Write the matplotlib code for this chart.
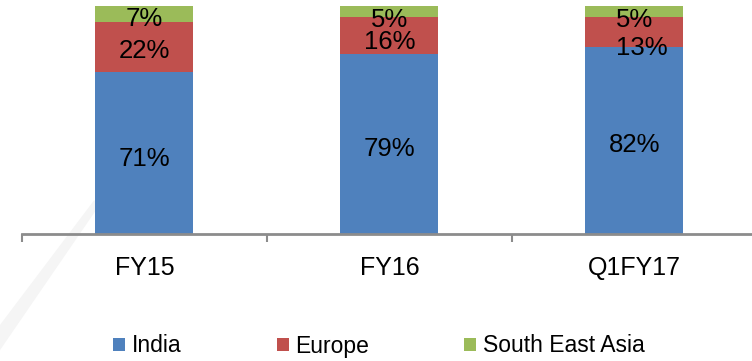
import numpy as np
import matplotlib.pyplot as plt
from matplotlib.patches import Polygon

categories = ['FY15', 'FY16', 'Q1FY17']
series_names = ['India', 'Europe', 'South East Asia']
india = [71, 79, 82]
europe = [22, 16, 13]
sea = [7, 5, 5]

colors = ['#4F81BD', '#C0504D', '#9BBB59']

plt.rcParams['font.family'] = ['Liberation Sans', 'DejaVu Sans']

fig = plt.figure(figsize=(7.52, 3.61), dpi=100)

# faint watermark swoosh behind everything
fig.patches.append(Polygon([[0.0, 0.10], [0.0, 0.03], [0.135, 0.44], [0.125, 0.445]],
                           closed=True, transform=fig.transFigure,
                           facecolor='#f5f5f5', edgecolor='none', zorder=-5))

ax = fig.add_axes([22 / 752, 1 - 234 / 361, 735 / 752, 228 / 361])
ax.set_zorder(2)
ax.patch.set_alpha(0)

x = np.arange(len(categories))
width = 0.4
bottom = np.zeros(len(categories))
bars = []
for vals, name, c in zip([india, europe, sea], series_names, colors):
    ax.bar(x, vals, width, bottom=bottom, color=c, label=name, zorder=2)
    bars.append((np.array(vals), bottom.copy()))
    bottom += np.array(vals)

# data labels: cap-centre a bit below the segment centre, small ones pushed down (px)
lab_fs = 18.5
cap_half = 0.716 * lab_fs * 100 / 72 / 2
shift = {(0, 0): (0, 4), (0, 1): (0, 2), (0, 2): (0, 2.5),
         (1, 0): (0, 3), (1, 1): (0, 4.5), (1, 2): (0, 6.3),
         (2, 0): (0, 2.5), (2, 1): (7, 13.8), (2, 2): (0, 6.3)}
for si, (vals, bot) in enumerate(bars):
    for i in range(len(categories)):
        dx, dy = shift[(i, si)]
        ax.annotate(f'{vals[i]}%', (x[i], bot[i] + vals[i] / 2),
                    xytext=(dx * 0.72, -(cap_half + dy) * 0.72),
                    textcoords='offset points', ha='center', va='baseline',
                    fontsize=lab_fs, color='black', zorder=3)

ax.set_xlim(-0.5, len(categories) - 0.5)
ax.set_ylim(0, 100)
for s in ['top', 'right', 'left']:
    ax.spines[s].set_visible(False)
ax.spines['bottom'].set_color('#8c8c8c')
ax.spines['bottom'].set_linewidth(2)
ax.set_yticks([])
ax.set_xticks(np.arange(len(categories) + 1) - 0.5)
ax.set_xticklabels([])
ax.tick_params(axis='x', which='major', direction='out', length=6, width=1.5, color='#8c8c8c')
ax.set_xticks(x, minor=True)
ax.set_xticklabels(categories, minor=True, fontsize=18)
ax.tick_params(axis='x', which='minor', length=0, pad=16)

fig.legend(loc='center', bbox_to_anchor=(379 / 752, 1 - 346 / 361), ncol=3, frameon=False,
           fontsize=16.5, handlelength=0.52, handleheight=0.52, handletextpad=0.3,
           columnspacing=4.15, borderaxespad=0)

fig.savefig('out.png', dpi=100)
